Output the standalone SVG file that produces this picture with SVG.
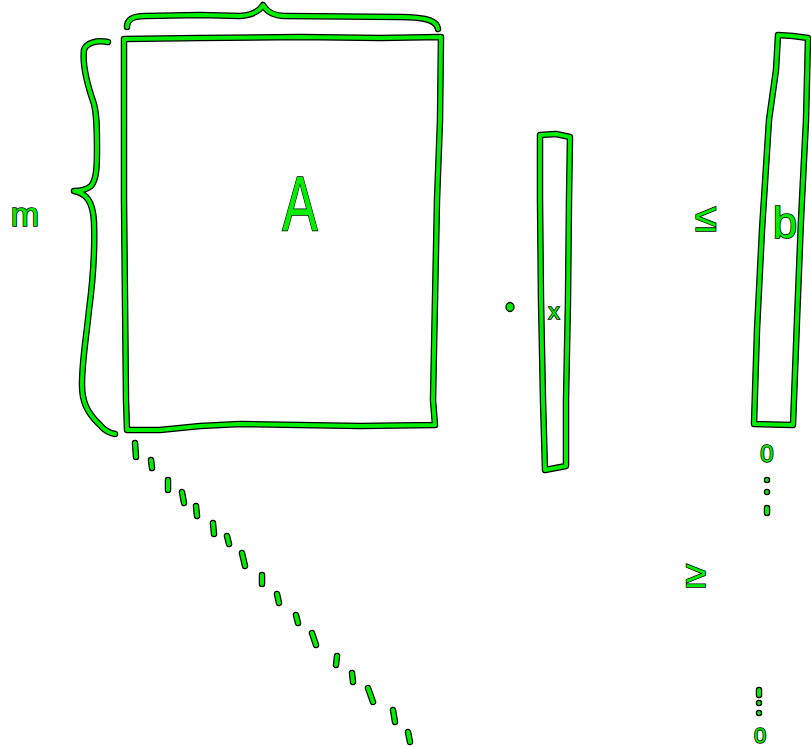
<svg xmlns="http://www.w3.org/2000/svg" xmlns:xlink="http://www.w3.org/1999/xlink" width="811" height="748" viewBox="0 0 811 748">
<style>
.o{fill:none;stroke:#000;stroke-width:6.5;stroke-linecap:round;stroke-linejoin:round}
.g{fill:none;stroke:#0e0;stroke-width:4;stroke-linecap:round;stroke-linejoin:round}
.d{fill:#0e0;stroke:#000;stroke-width:1.3}
.t{fill:#0e0;stroke:#000;stroke-width:1.6;paint-order:stroke;font-family:"Liberation Sans",Arial,sans-serif;text-anchor:middle}
</style>
<defs>
<path id="rectA" d="M124,39 L200,38 L300,37 L380,38 L441,37 L440,120 L437,200 L435,300 L433,400 L435,425 L360,426 L240,424 L200,426 L160,430 L140,430 L127,430 L126,400 L125,300 L124,200 L124,39 Z"/>
<path id="braceTop" d="M127,27 C127,18 135,16 145,16 L200,15 L240,16 C252,15 259,12 263,5 C267,12 274,16 285,16 L400,17 C430,17 437,22 438,29"/>
<path id="braceLeft" d="M108,42 C96,40 86,43 84,50 C82,66 87,84 94,104 C97,116 97,130 97,150 C97,170 96,180 91,186 C86,190 80,191 74,191 C85,193 93,200 94,222 C95,250 93,280 89,310 C86,340 82,360 82,385 C82,400 86,412 100,425 C104,430 110,433 115,434"/>
<path id="vecX" d="M540,135 L556,134 L570,137 L569,200 L568,300 L566,400 L566,466 L545,470 L543,400 L541,300 L540,200 Z"/>
<path id="vecB" d="M778,35 L793,36 L808,38 L806,120 L801,220 L797,320 L793,425 L754,424 L757,330 L762,230 L769,120 L776,70 Z"/>
<path id="dash" d="M135,443 L136,457 M151,460 L152,468 M168,480 L168,490 M182,492 L184,503 M196,506 L197,516 M213,523 L214,534 M227,536 L229,544 M242,553 L245,566 M262,575 L262,584 M277,594 L279,603 M296,615 L298,623 M312,633 L316,645 M337,656 L336,665 M352,673 L353,682 M368,688 L373,702 M393,710 L395,722 M408,732 L410,742 M767,508 L767,513 M759,690 L759,695"/>
</defs>
<g id="connectors">
<use xlink:href="#dash" class="o"/><use xlink:href="#dash" class="g"/>
</g>
<g id="matrixA">
<use xlink:href="#rectA" class="o"/><use xlink:href="#rectA" class="g"/>
<text class="t" font-size="78" transform="translate(300,231) scale(0.68,1)">A</text>
</g>
<g id="braceN">
<use xlink:href="#braceTop" class="o"/><use xlink:href="#braceTop" class="g"/>
</g>
<g id="braceM">
<use xlink:href="#braceLeft" class="o"/><use xlink:href="#braceLeft" class="g"/>
<text class="t" x="25" y="226" font-size="34">m</text>
</g>
<g id="dot">
<ellipse class="d" cx="510" cy="307" rx="4" ry="4.5"/>
</g>
<g id="vectorX">
<use xlink:href="#vecX" class="o"/><use xlink:href="#vecX" class="g"/>
<text class="t" x="554" y="319" font-size="22">x</text>
</g>
<g id="le">
<text class="t" x="706" y="231" font-size="40">≤</text>
</g>
<g id="vectorB">
<use xlink:href="#vecB" class="o"/><use xlink:href="#vecB" class="g"/>
<text class="t" x="785" y="238" font-size="44">b</text>
</g>
<g id="zero1">
<text class="t" x="767" y="462" font-size="24">0</text>
<circle class="d" cx="767" cy="480" r="2.6"/>
<circle class="d" cx="767" cy="492" r="2.6"/>
</g>
<g id="ge">
<text class="t" x="696" y="587" font-size="38">≥</text>
</g>
<g id="zero2">
<circle class="d" cx="759" cy="703" r="2.6"/>
<circle class="d" cx="759" cy="713" r="2.6"/>
<text class="t" x="760" y="743" font-size="22">0</text>
</g>
</svg>
